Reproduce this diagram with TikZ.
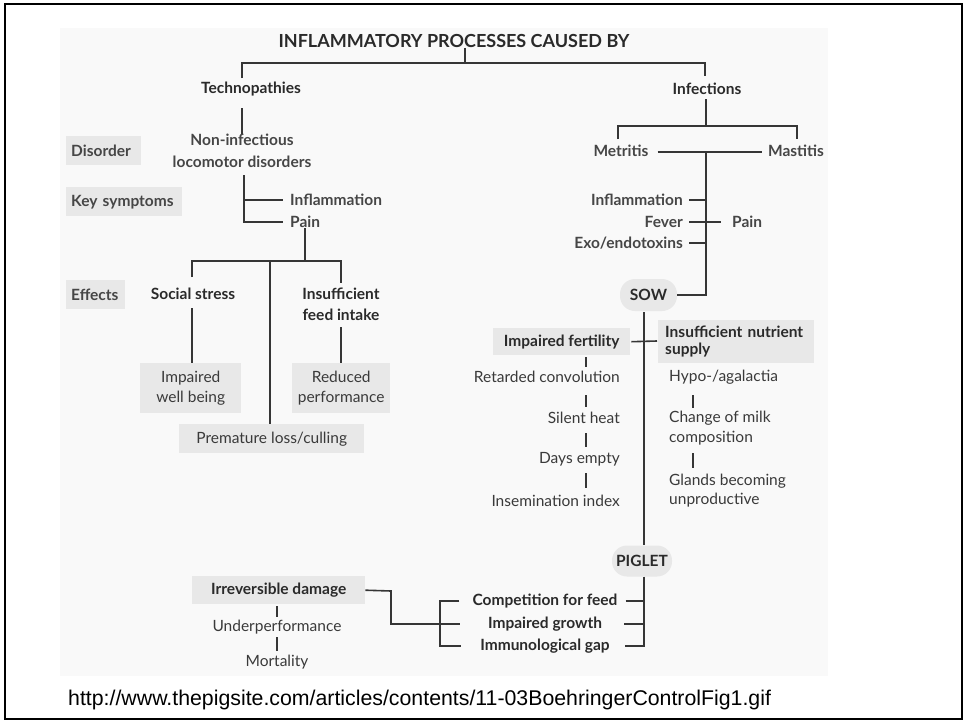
\documentclass[tikz,border=0pt]{standalone}
\usepackage{fontspec}
\setmainfont{Lato}
\newfontfamily\urlfont{Liberation Sans}
\definecolor{bgc}{HTML}{F9F9F9}
\definecolor{boxc}{HTML}{E8E8E8}
\definecolor{dtxt}{HTML}{2A2A2A}
\definecolor{mtxt}{HTML}{464646}
\definecolor{ltxt}{HTML}{3A3A3A}
\definecolor{lnc}{HTML}{363636}
\begin{document}
\begin{tikzpicture}[x=1pt,y=-1pt,
  bt/.style={inner sep=0pt,text=dtxt,font=\fontsize{15.5}{19}\selectfont\bfseries,align=center},
  mt/.style={inner sep=0pt,text=mtxt,font=\fontsize{15.5}{22}\selectfont\bfseries,align=center},
  lt/.style={inner sep=0pt,text=ltxt,font=\fontsize{15.5}{20}\selectfont,align=center},
  gbox/.style={fill=boxc},
  pill/.style={fill=boxc,rounded corners=15pt,inner sep=0pt,text=dtxt,font=\fontsize{15.5}{19}\selectfont\bfseries},
  ln/.style={draw=lnc,line width=1.6pt}]
\useasboundingbox (0,0) rectangle (964,721);
\fill[white] (0,0) rectangle (964,721);
\fill[bgc] (60,28) rectangle (828,676);
\draw[black,line width=2.5pt] (5,4) rectangle (962,719);

% ---- title and top level
\node[bt,font=\fontsize{18}{20}\selectfont\bfseries] (title) at (454,41) {INFLAMMATORY PROCESSES CAUSED BY};
\node[bt] (techno) at (251,89) {Technopathies};
\node[bt] (infect) at (707,89) {Infections};

% ---- row labels
\node[gbox,mt,anchor=north west,minimum width=75pt,minimum height=29pt,text width=65pt,align=left,inner xsep=5pt] (disorder) at (66,136) {Disorder};
\node[gbox,mt,anchor=north west,minimum width=116pt,minimum height=29pt,text width=106pt,align=left,inner xsep=5pt] (keysym) at (66,187) {Key symptoms};
\node[gbox,mt,anchor=north west,minimum width=59pt,minimum height=29pt,text width=49pt,align=left,inner xsep=5pt] (effects) at (66,280) {Effects};

% ---- left tree
\node[mt] (noninf) at (242,151) {Non-infectious\\locomotor disorders};
\node[mt,anchor=west] (inflamL) at (290,200) {Inflammation};
\node[mt,anchor=west] (painL) at (290,222) {Pain};
\node[bt] (social) at (193,294) {Social stress};
\node[bt,font=\fontsize{15.5}{21}\selectfont\bfseries] (insuff) at (341,304.5) {Insufficient\\feed intake};
\node[gbox,lt,anchor=north west,minimum width=101pt,minimum height=50pt] (impwell) at (140,363) {Impaired\\well being};
\node[gbox,lt,anchor=north west,minimum width=98pt,minimum height=50pt] (reduced) at (292,363) {Reduced\\performance};
\node[gbox,lt,anchor=north west,minimum width=185pt,minimum height=29pt] (premat) at (179,424) {Premature loss/culling};

% ---- right tree
\node[mt] (metritis) at (621,151) {Metritis};
\node[mt] (mastitis) at (796,151) {Mastitis};
\node[mt,anchor=east] (inflamR) at (683,200) {Inflammation};
\node[mt,anchor=east] (fever) at (683,222) {Fever};
\node[mt,anchor=west] (painR) at (732,222) {Pain};
\node[mt,anchor=east] (exo) at (683,243) {Exo/endotoxins};
\node[pill,minimum width=57pt,minimum height=32pt] (sow) at (648.5,295) {SOW};

\node[gbox,bt,anchor=north west,minimum width=137pt,minimum height=27pt] (impfert) at (493,328) {Impaired fertility};
\node[gbox,bt,anchor=north west,minimum width=156pt,minimum height=43pt,text width=142pt,align=left,inner xsep=7pt,font=\fontsize{15.5}{17}\selectfont\bfseries] (insnut) at (658,320) {Insufficient nutrient\\supply};

\node[lt,anchor=east] (retard) at (620,377) {Retarded convolution};
\node[lt,anchor=east] (silent) at (620,418) {Silent heat};
\node[lt,anchor=east] (days) at (620,459) {Days empty};
\node[lt,anchor=east] (insem) at (620,501) {Insemination index};

\node[lt,anchor=west] (hypo) at (669,377) {Hypo-/agalactia};
\node[lt,anchor=west,align=left] (change) at (669,428) {Change of milk\\composition};
\node[lt,anchor=west,align=left,font=\fontsize{15.5}{19}\selectfont] (glands) at (669,490.5) {Glands becoming\\unproductive};

\node[pill,minimum width=60pt,minimum height=31pt] (piglet) at (642,561) {PIGLET};
\node[bt] (comp) at (545,601) {Competition for feed};
\node[bt] (impg) at (545,624) {Impaired growth};
\node[bt] (immuno) at (545,646) {Immunological gap};

\node[gbox,bt,anchor=north west,minimum width=173pt,minimum height=28pt] (irrev) at (192,576) {Irreversible damage};
\node[lt] (under) at (277,627) {Underperformance};
\node[lt] (mort) at (277,662) {Mortality};

\node[anchor=base west,inner sep=0pt,font=\urlfont\fontsize{21.3}{24}\selectfont] (url) at (68,705) {http://www.thepigsite.com/articles/contents/11-03BoehringerControlFig1.gif};

% ---- connectors: top
\coordinate (jt) at (465,63);
\coordinate (jl) at (242,63);
\coordinate (jr) at (705,63);
\coordinate (jlb) at (242,78);
\coordinate (jrb) at (705,76);
\draw[ln] (title.south -| jt) -- (jt);
\draw[ln] (jlb) -- (jl) -- (jr) -- (jrb);

% left tree
\coordinate (ja) at (242,108);
\draw[ln] (ja) -- (ja |- noninf.north);
\coordinate (jb) at (244,175);
\draw[ln] (jb) |- ([xshift=-7pt]painL.west);
\draw[ln] (jb |- inflamL) -- ([xshift=-7pt]inflamL.west);
\coordinate (jc) at (305,261);
\coordinate (jsl) at (192,277);
\coordinate (jsr) at (341,283);
\coordinate (jpm) at (270,261);
\draw[ln] (jc |- painL.south) -- (jc);
\draw[ln] (jsl) |- (jc) -| (jsr);
\draw[ln] (jpm) -- (jpm |- premat.north);
\coordinate (jw) at (192,308);
\coordinate (jv) at (341,327);
\draw[ln] (jw) -- (jw |- impwell.north);
\draw[ln] (jv) -- (jv |- reduced.north);

% right tree
\coordinate (jd) at (706,126);
\coordinate (jdt) at (706,99);
\coordinate (jml) at (618,139);
\coordinate (jmr) at (797,139);
\draw[ln] (jdt) -- (jd);
\draw[ln] (jml) |- (jd) -| (jmr);
\coordinate (je) at (706,152);
\draw[ln] ([xshift=9pt]metritis.east |- je) -- ([xshift=-6pt]mastitis.west |- je);
\draw[ln] (je) |- (sow.east);
\draw[ln] ([xshift=6pt]inflamR.east) -- (je |- inflamR);
\draw[ln] ([xshift=6pt]fever.east) -- ([xshift=-11pt]painR.west);
\draw[ln] ([xshift=6pt]exo.east) -- (je |- exo);

% sow -> piglet
\coordinate (jf) at (644,312);
\coordinate (jfe) at (657,341);
\draw[ln] (jf) -- (jf |- piglet.north);
\draw[ln] ([xshift=1pt]impfert.east) -- (jfe);
\draw[ln] (586,357) -- (586,367);
\draw[ln] (586,395) -- (586,407);
\draw[ln] (586,433) -- (586,447);
\draw[ln] (586,473) -- (586,488);
\draw[ln] (693,395) -- (693,408);
\draw[ln] (693,453) -- (693,468);

% piglet effects
\coordinate (jg) at (644,646);
\draw[ln] (jf |- piglet.south) -- (jg) -- ([xshift=15pt]immuno.east |- jg);
\draw[ln] ([xshift=8pt]comp.east) -- (jg |- comp);
\draw[ln] ([xshift=22pt]impg.east) -- (jg |- impg);
\coordinate (jh) at (440,601);
\coordinate (jhb) at (440,646);
\coordinate (jk) at (391,591);
\coordinate (jkb) at (391,624);
\draw[ln] ([xshift=-13pt]comp.west) -- (jh) -- (jhb) -- ([xshift=-19pt]immuno.west);
\draw[ln] (irrev.east) -- (jk) -- (jkb) -- ([xshift=-28pt]impg.west);
\draw[ln] (277,606) -- (277,617);
\draw[ln] (277,637) -- (277,651);
\end{tikzpicture}
\end{document}
